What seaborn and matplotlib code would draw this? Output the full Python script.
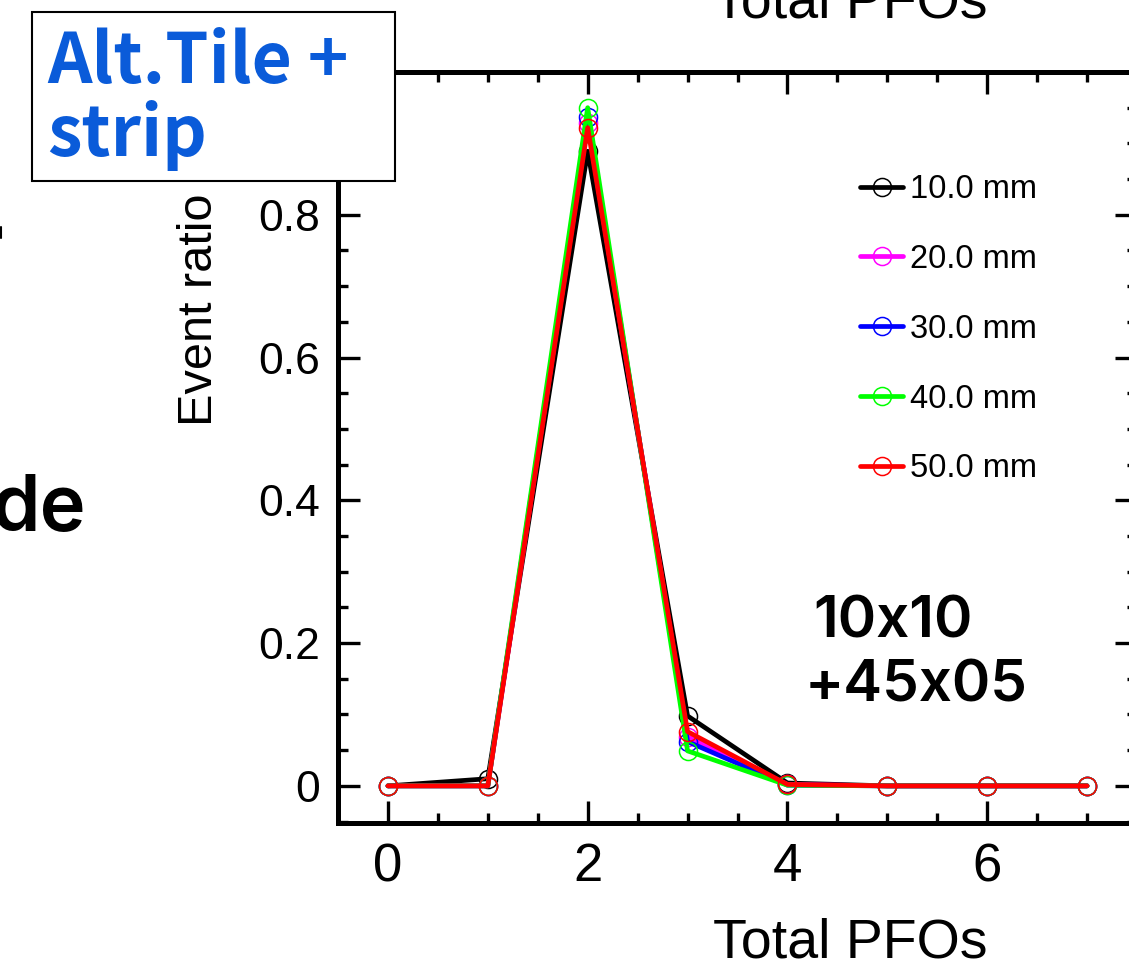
import numpy as np
import pandas as pd
import matplotlib
matplotlib.use("Agg")
import matplotlib.pyplot as plt
from matplotlib.ticker import MultipleLocator, FixedLocator, FuncFormatter
from matplotlib.patches import Rectangle
from matplotlib.lines import Line2D
import seaborn as sns

# Fraction of events by number of reconstructed PFOs, per strip width
n_pfos = [0, 1, 2, 3, 4, 5, 6, 7]
ratio_10mm = [0.0, 0.010, 0.889, 0.098, 0.004, 0.0, 0.0, 0.0]
ratio_20mm = [0.0, 0.0, 0.929, 0.069, 0.002, 0.0, 0.0, 0.0]
ratio_30mm = [0.0, 0.0, 0.937, 0.062, 0.001, 0.0, 0.0, 0.0]
ratio_40mm = [0.0, 0.0, 0.950, 0.049, 0.001, 0.0, 0.0, 0.0]
ratio_50mm = [0.0, 0.0, 0.922, 0.076, 0.002, 0.0, 0.0, 0.0]
series_labels = ["10.0 mm", "20.0 mm", "30.0 mm", "40.0 mm", "50.0 mm"]
series_colors = ["#000000", "#ff00ff", "#0000ff", "#00ff00", "#ff0000"]
series_values = [ratio_10mm, ratio_20mm, ratio_30mm, ratio_40mm, ratio_50mm]

W, H = 1129, 965
sns.set_theme(style="white")
plt.rcParams["font.family"] = ["Liberation Sans", "DejaVu Sans"]
plt.rcParams.update({"text.color": "black", "axes.labelcolor": "black",
                     "xtick.color": "black", "ytick.color": "black"})

fig = plt.figure(figsize=(W / 100, H / 100), dpi=100)
fig.patch.set_facecolor("white")
ax = fig.add_axes([338 / W, 1 - 823 / H, 799 / W, 751 / H])

for lab, col, vals in zip(series_labels, series_colors, series_values):
    df = pd.DataFrame({"Total PFOs": n_pfos, "Event ratio": vals})
    sns.lineplot(data=df, x="Total PFOs", y="Event ratio", ax=ax,
                 color=col, lw=3.4, marker="o", markersize=13,
                 markerfacecolor="none", markeredgecolor=col,
                 markeredgewidth=1.1, label=lab, legend=False)

ax.set_xlim(-0.5, 7.5)
ax.set_ylim(-0.052, 1.0)
ax.xaxis.set_major_locator(FixedLocator([0, 2, 4, 6]))
ax.xaxis.set_minor_locator(MultipleLocator(0.5))
ax.yaxis.set_major_locator(FixedLocator([0, 0.2, 0.4, 0.6, 0.8]))
ax.yaxis.set_minor_locator(MultipleLocator(0.05))
ax.yaxis.set_major_formatter(FuncFormatter(lambda v, p: f"{v:g}"))

for s in ax.spines.values():
    s.set_linewidth(3.6)
    s.set_color("black")
ax.tick_params(which="both", direction="in", top=True, right=True,
               bottom=True, left=True, color="black", width=2.4)
ax.tick_params(which="major", length=16, pad=13)
ax.tick_params(axis="y", which="major", labelsize=32)
ax.tick_params(axis="x", which="major", labelsize=38, pad=14)
ax.tick_params(which="minor", length=7.5)

ax.set_xlabel("Total PFOs", fontsize=40)
ax.xaxis.set_label_coords(850 / W, 1 - 918 / H, transform=fig.transFigure)
ax.set_ylabel("Event ratio", fontsize=35)
ax.yaxis.set_label_coords(222 / W, 1 - 310 / H, transform=fig.transFigure)
ax.set_title("Total PFOs", fontsize=40, x=(850 - 338) / 799,
             y=(823 - 17) / 751, pad=0)

leg = ax.legend(loc="upper left", bbox_to_anchor=(860 / W, 1 - 174 / H),
                bbox_transform=fig.transFigure, frameon=False, fontsize=23.5,
                handlelength=1.32, handletextpad=0.22, labelspacing=1.19,
                borderpad=0, borderaxespad=0)

tag_font = ["Inter", "DejaVu Sans"]
ax.text(813 / W, 1 - 637 / H, "10x10", transform=fig.transFigure,
        fontsize=42, family=tag_font, weight="semibold", va="baseline",
        ha="left")
ax.text(805 / W, 1 - 702 / H, "+45x05", transform=fig.transFigure,
        fontsize=42, family=tag_font, weight="semibold", va="baseline",
        ha="left")

# Scheme label box in the upper-left corner
cjk = ["Noto Sans CJK JP", "DejaVu Sans"]
box = Rectangle((32 / W, 1 - 181 / H), 363 / W, 169 / H,
                transform=fig.transFigure, facecolor="white",
                edgecolor="black", lw=1.5, zorder=10)
fig.add_artist(box)
fig.text(47 / W, 1 - 83 / H, "Alt.Tile +", color="#0a5bd9", fontsize=50,
         family=cjk, weight="bold", va="baseline", ha="left", zorder=11)
fig.text(47 / W, 1 - 156 / H, "strip", color="#0a5bd9", fontsize=50,
         family=cjk, weight="bold", va="baseline", ha="left", zorder=11)

fig.text(86 / W, 1 - 530 / H, "de", color="black", fontsize=56,
         family=tag_font, weight="semibold", va="baseline", ha="right")
fig.add_artist(Line2D([1 / W, 1 / W], [1 - 227 / H, 1 - 238 / H],
                      transform=fig.transFigure, color="black", lw=1.5))

fig.savefig("out.png", dpi=100, facecolor="white")
